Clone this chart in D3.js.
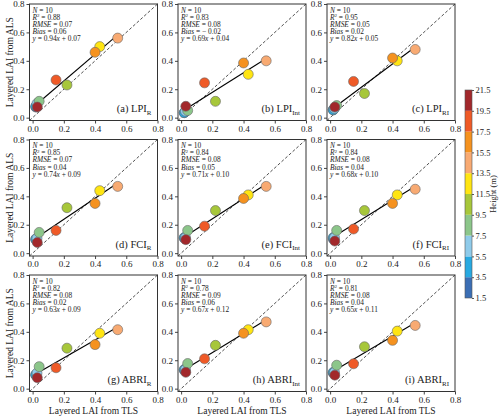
<!DOCTYPE html>
<html><head><meta charset="utf-8">
<script src="https://cdn.jsdelivr.net/npm/d3@7"></script>
<style>
html,body{margin:0;padding:0;background:#fff;}
svg{display:block;font-family:"Liberation Serif","DejaVu Serif",serif;}
</style></head>
<body><svg id="chart" width="500" height="420"></svg>
<script>
// ---- data ----
const heights = [2.5, 4.5, 6.5, 8.5, 10.5, 12.5, 14.5, 16.5, 18.5, 20.5];
const tlsLAI  = [0.02, 0.02, 0.028, 0.042, 0.22, 0.43, 0.545, 0.40, 0.15, 0.03];
const panelNames = ["LPI", "LPI", "LPI", "FCI", "FCI", "FCI", "ABRI", "ABRI", "ABRI"];
const panelSubs  = ["R", "Int", "RI", "R", "Int", "RI", "R", "Int", "RI"];
const panelTags  = ["a", "b", "c", "d", "e", "f", "g", "h", "i"];
const alsLAI = [
  [0.075, 0.08, 0.10, 0.115, 0.23, 0.50, 0.56, 0.46, 0.265, 0.075],
  [0.035, 0.035, 0.045, 0.05, 0.115, 0.305, 0.40, 0.385, 0.245, 0.08],
  [0.055, 0.055, 0.065, 0.085, 0.17, 0.40, 0.48, 0.42, 0.255, 0.075],
  [0.095, 0.10, 0.105, 0.146, 0.32, 0.44, 0.47, 0.35, 0.16, 0.075],
  [0.105, 0.11, 0.11, 0.16, 0.30, 0.41, 0.47, 0.385, 0.19, 0.095],
  [0.10, 0.11, 0.11, 0.16, 0.30, 0.41, 0.45, 0.35, 0.17, 0.085],
  [0.095, 0.10, 0.11, 0.155, 0.285, 0.39, 0.415, 0.31, 0.147, 0.077],
  [0.13, 0.135, 0.135, 0.177, 0.305, 0.415, 0.47, 0.39, 0.21, 0.115],
  [0.11, 0.115, 0.115, 0.165, 0.295, 0.405, 0.445, 0.34, 0.175, 0.095]
];
const statN     = [10, 10, 10, 10, 10, 10, 10, 10, 10];
const statR2    = ["0.88", "0.83", "0.95", "0.85", "0.84", "0.84", "0.82", "0.78", "0.81"];
const statRMSE  = ["0.07", "0.08", "0.05", "0.07", "0.08", "0.08", "0.08", "0.09", "0.08"];
const statBias  = ["0.06", "\u2212 0.02", "0.02", "0.04", "0.05", "0.04", "0.02", "0.06", "0.04"];
const slopes    = [0.94, 0.69, 0.82, 0.74, 0.71, 0.68, 0.63, 0.67, 0.65];
const intercepts= [0.07, 0.04, 0.05, 0.09, 0.10, 0.10, 0.09, 0.12, 0.11];
const axisTicks = [0, 0.2, 0.4, 0.6, 0.8];
const cbTicks   = [1.5, 3.5, 5.5, 7.5, 9.5, 11.5, 13.5, 15.5, 17.5, 19.5, 21.5];
const cbColors  = ["#3b6eb4", "#27a9e1", "#8fcbea", "#8cc68a", "#a7c73a",
                   "#ffe512", "#f8aa72", "#f5921f", "#ef5a27", "#a2282b"];

// ---- layout ----
const svg = d3.select("#chart");
const colX = [29.5, 178, 327], colW = 128;
const rowY = [4, 139.5, 275], rowH = 116.5;
const dom = [-0.02, 0.8];
const color = d3.scaleQuantize().domain([1.5, 21.5]).range(cbColors);
const fmt = d3.format(".1f");

panelNames.forEach((name, i) => {
  const c = i % 3, r = Math.floor(i / 3);
  const x0 = colX[c], y0 = rowY[r];
  const x = d3.scaleLinear().domain(dom).range([x0, x0 + colW]);
  const y = d3.scaleLinear().domain(dom).range([y0 + rowH, y0]);
  const g = svg.append("g");

  // axes
  const ax = g.append("g").attr("transform", `translate(0,${y0 + rowH})`)
    .call(d3.axisBottom(x).tickValues(axisTicks).tickFormat(fmt).tickSize(3).tickPadding(2));
  const ay = g.append("g").attr("transform", `translate(${x0},0)`)
    .call(d3.axisLeft(y).tickValues(axisTicks).tickFormat(fmt).tickSize(3).tickPadding(2));
  [ax, ay].forEach(a => {
    a.select(".domain").remove();
    a.selectAll("text").attr("font-family", "Liberation Serif").attr("font-size", 9).attr("fill", "#222");
    a.selectAll("line").attr("stroke", "#444");
  });

  // 1:1 line
  g.append("line")
    .attr("x1", x(dom[0])).attr("y1", y(dom[0]))
    .attr("x2", x(dom[1])).attr("y2", y(dom[1]))
    .attr("stroke", "#222").attr("stroke-width", 0.8).attr("stroke-dasharray", "3,2");

  // regression line
  const xmin = d3.min(tlsLAI), xmax = d3.max(tlsLAI);
  g.append("line")
    .attr("x1", x(xmin)).attr("y1", y(slopes[i] * xmin + intercepts[i]))
    .attr("x2", x(xmax)).attr("y2", y(slopes[i] * xmax + intercepts[i]))
    .attr("stroke", "#000").attr("stroke-width", 1.1);

  // points
  const pts = heights.map((h, k) => ({h, tx: tlsLAI[k], ay: alsLAI[i][k]}));
  g.selectAll("circle.pt").data(pts).enter().append("circle")
    .attr("class", "pt")
    .attr("cx", d => x(d.tx)).attr("cy", d => y(d.ay)).attr("r", 5)
    .attr("fill", d => color(d.h))
    .attr("stroke", "#666").attr("stroke-width", 0.6);

  // frame
  g.append("rect").attr("x", x0).attr("y", y0).attr("width", colW).attr("height", rowH)
    .attr("fill", "none").attr("stroke", "#333").attr("stroke-width", 1);

  // stats text
  const tx = x0 + 3, ty = y0 + 8.5, lh = 7.2, fs = 7.4;
  const st = g.append("g").attr("font-family", "Liberation Serif").attr("font-size", fs).attr("fill", "#222");
  let t = st.append("text").attr("x", tx).attr("y", ty);
  t.append("tspan").attr("font-style", "italic").text("N");
  t.append("tspan").text(" = " + statN[i]);
  t = st.append("text").attr("x", tx).attr("y", ty + lh);
  t.append("tspan").attr("font-style", "italic").text("R");
  t.append("tspan").attr("font-size", 5).attr("dy", -2.5).text("2");
  t.append("tspan").attr("dy", 2.5).text(" = " + statR2[i]);
  t = st.append("text").attr("x", tx).attr("y", ty + 2 * lh);
  t.append("tspan").attr("font-style", "italic").text("RMSE");
  t.append("tspan").text(" = " + statRMSE[i]);
  t = st.append("text").attr("x", tx).attr("y", ty + 3 * lh);
  t.append("tspan").attr("font-style", "italic").text("Bias");
  t.append("tspan").text(" = " + statBias[i]);
  t = st.append("text").attr("x", tx).attr("y", ty + 4 * lh);
  t.append("tspan").attr("font-style", "italic").text("y");
  t.append("tspan").text(" = " + slopes[i].toFixed(2));
  t.append("tspan").attr("font-style", "italic").text("x");
  t.append("tspan").text(" + " + intercepts[i].toFixed(2));

  // panel label
  const lab = g.append("text").attr("x", x0 + colW - 6).attr("y", y0 + rowH - 8.5)
    .attr("text-anchor", "end").attr("font-family", "Liberation Serif").attr("font-size", 10.5).attr("fill", "#222");
  lab.append("tspan").text(`(${panelTags[i]}) ${name}`);
  lab.append("tspan").attr("font-size", 7).attr("dy", 2.5).text(panelSubs[i]);
});

// y-axis titles
rowY.forEach(y0 => {
  svg.append("text")
    .attr("transform", `translate(12.5,${y0 + rowH / 2}) rotate(-90)`)
    .attr("text-anchor", "middle").attr("font-size", 9.5).attr("fill", "#222")
    .text("Layered LAI from ALS");
});
// x-axis titles
colX.forEach(x0 => {
  svg.append("text")
    .attr("x", x0 + colW / 2).attr("y", 414)
    .attr("text-anchor", "middle").attr("font-size", 9.5).attr("fill", "#222")
    .text("Layered LAI from TLS");
});

// colorbar
const cbX = 465, cbW = 7;
const cy = d3.scaleLinear().domain([1.5, 21.5]).range([298, 90]);
const cbG = svg.append("g");
cbColors.forEach((col, k) => {
  cbG.append("rect")
    .attr("x", cbX).attr("y", cy(cbTicks[k + 1])).attr("width", cbW)
    .attr("height", cy(cbTicks[k]) - cy(cbTicks[k + 1]))
    .attr("fill", col);
});
cbG.append("rect").attr("x", cbX).attr("y", cy(21.5)).attr("width", cbW)
  .attr("height", cy(1.5) - cy(21.5)).attr("fill", "none").attr("stroke", "#555").attr("stroke-width", 0.6);
const cax = cbG.append("g").attr("transform", `translate(${cbX + cbW},0)`)
  .call(d3.axisRight(cy).tickValues(cbTicks).tickFormat(d3.format(".1f")).tickSize(2).tickPadding(1.5));
cax.select(".domain").remove();
cax.selectAll("text").attr("font-family", "Liberation Serif").attr("font-size", 8.5).attr("fill", "#222");
cax.selectAll("line").attr("stroke", "#555");
svg.append("text")
  .attr("transform", `translate(496,194) rotate(-90)`)
  .attr("text-anchor", "middle").attr("font-size", 8.5).attr("fill", "#222")
  .text("Height (m)");
</script></body></html>
